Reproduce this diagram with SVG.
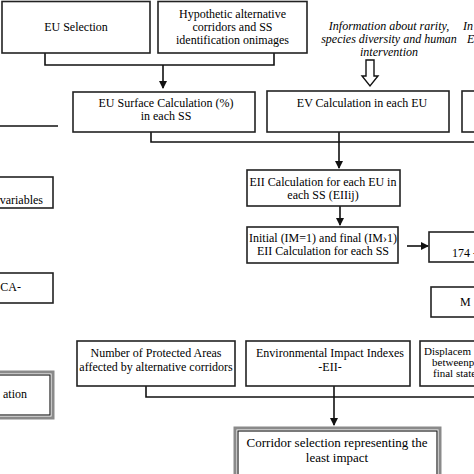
<svg xmlns="http://www.w3.org/2000/svg" width="474" height="474" viewBox="0 0 474 474">
<style>
.box{fill:#fff;stroke:#222;stroke-width:1.6}
.outer{fill:#fff;stroke:#8a8a8a;stroke-width:3}
.inner{fill:none;stroke:#222;stroke-width:1.2}
text{font-family:"Liberation Serif","Times New Roman",serif;font-size:12px;fill:#000}
.c{text-anchor:middle}
.e{text-anchor:end}
.it{font-style:italic}
.big{font-size:13px}
.sm{font-size:11px}
.ln{fill:none;stroke:#111;stroke-width:1.6}
</style>
<defs>
<marker id="ah" markerWidth="8" markerHeight="8" refX="7" refY="4" orient="auto" markerUnits="userSpaceOnUse">
<path d="M0,0 L8,4 L0,8 Z" fill="#111"/>
</marker>
</defs>
<rect width="474" height="474" fill="#fff"/>

<g id="connectors">
<polyline class="ln" points="45,53 45,65 274,65 274,53"/>
<line class="ln" x1="163" y1="65" x2="163" y2="88" marker-end="url(#ah)"/>
<path d="M366,60 H374 V76 H378 L370,86 L362,76 H366 Z" fill="#fff" stroke="#111" stroke-width="1.4"/>
<polyline class="ln" points="151,132 151,142 474,142"/>
<line class="ln" x1="339" y1="132" x2="339" y2="168" marker-end="url(#ah)"/>
<line class="ln" x1="340" y1="206" x2="340" y2="225" marker-end="url(#ah)"/>
<line class="ln" x1="407" y1="246" x2="428" y2="246" marker-end="url(#ah)"/>
<line class="ln" x1="0" y1="126" x2="58" y2="126"/>
<polyline class="ln" points="146,386 146,397 474,397"/>
<line class="ln" x1="334" y1="386" x2="334" y2="425" marker-end="url(#ah)"/>
</g>

<g id="eu-selection">
<rect class="box" x="2" y="1.5" width="148" height="51.5"/>
<text class="c" x="76" y="31">EU Selection</text>
</g>

<g id="hypothetic">
<rect class="box" x="158" y="1.5" width="149" height="51.5"/>
<text class="c" x="232.5" y="18">Hypothetic alternative</text>
<text class="c" x="232.5" y="31">corridors and SS</text>
<text class="c" x="232.5" y="44">identification onimages</text>
</g>

<g id="info-rarity">
<text class="c it" x="389" y="30">Information about rarity,</text>
<text class="c it" x="389" y="43">species diversity and human</text>
<text class="c it" x="389" y="56">intervention</text>
</g>

<g id="info-right">
<text class="it" x="463" y="30">In</text>
<text class="it" x="467" y="43">E</text>
</g>

<g id="eu-surface">
<rect class="box" x="73" y="92" width="182" height="40"/>
<text class="c" x="166" y="107">EU Surface Calculation (%)</text>
<text class="c" x="166" y="120">in each SS</text>
</g>

<g id="ev-calc">
<rect class="box" x="267" y="91" width="182" height="41"/>
<text class="c" x="362" y="107">EV Calculation in each EU</text>
</g>

<g id="right-box-row2">
<rect class="box" x="462" y="91" width="30" height="41"/>
</g>

<g id="variables">
<rect class="box" x="-10" y="177" width="63" height="31"/>
<text class="e" x="43" y="204">variables</text>
</g>

<g id="eii-calc">
<rect class="box" x="247" y="170" width="153" height="36"/>
<text class="c" x="323" y="186">EII Calculation for each EU in</text>
<text class="c" x="323" y="199">each SS (EIIij)</text>
</g>

<g id="initial-final">
<rect class="box" x="247" y="227" width="151" height="36"/>
<text class="c" x="323" y="242">Initial (IM=1) and final (IM›1)</text>
<text class="c" x="323" y="255">EII Calculation for each SS</text>
</g>

<g id="box-174">
<rect class="box" x="429" y="232" width="60" height="30"/>
<text x="452" y="257">174 -</text>
</g>

<g id="pca">
<rect class="box" x="-10" y="273" width="63" height="30"/>
<text class="e" x="21" y="291">CA-</text>
</g>

<g id="box-m">
<rect class="box" x="431" y="287" width="60" height="30"/>
<text x="460" y="306">M</text>
</g>

<g id="protected-areas">
<rect class="box" x="77" y="341" width="158" height="45"/>
<text class="c" x="156" y="357">Number of Protected Areas</text>
<text class="c" x="156" y="371">affected by alternative corridors</text>
</g>

<g id="eii">
<rect class="box" x="246" y="341" width="164" height="45"/>
<text class="c" x="330" y="357">Environmental Impact Indexes</text>
<text class="c" x="330" y="371">-EII-</text>
</g>

<g id="displacement">
<rect class="box" x="420" y="341" width="70" height="45"/>
<text class="sm" x="424" y="355">Displacem</text>
<text class="sm" x="432" y="366">betweenp</text>
<text class="sm" x="433" y="377">final state</text>
</g>

<g id="ation">
<rect class="outer" x="-10" y="372" width="63" height="46"/>
<rect class="inner" x="-10" y="375" width="60" height="40"/>
<text class="e" x="27" y="398">ation</text>
</g>

<g id="corridor-selection">
<rect class="outer" x="235" y="428" width="205" height="50"/>
<rect class="inner" x="238" y="431" width="199" height="45"/>
<text class="c big" x="337" y="447">Corridor selection representing the</text>
<text class="c big" x="337" y="462">least impact</text>
</g>
</svg>
